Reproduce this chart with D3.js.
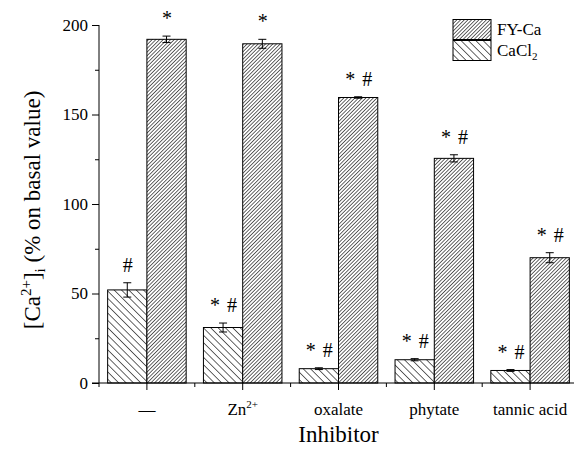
<!DOCTYPE html>
<html>
<head>
<meta charset="utf-8">
<script src="https://cdn.jsdelivr.net/npm/d3@7"></script>
<style>
  body { margin: 0; background: #fff; }
  svg text { font-family: "Liberation Serif", "Times New Roman", serif; fill: #000; }
</style>
</head>
<body>
<svg id="chart" width="574" height="455"></svg>
<script>
// data
const categories = ["\u2014", "Zn", "oxalate", "phytate", "tannic acid"];
const categorySup = ["", "2+", "", "", ""];
const seriesNames = ["CaCl2", "FY-Ca"];

const cacl2Values = [52, 31, 8, 13, 7];
const cacl2Errors = [4, 2.5, 0.5, 0.6, 0.5];
const cacl2Marks = ["#", "* #", "* #", "* #", "* #"];

const fycaValues = [192, 189.5, 159.5, 125.5, 70];
const fycaErrors = [1.8, 2.5, 0.4, 2, 2.8];
const fycaMarks = ["*", "*", "* #", "* #", "* #"];

const yTicks = [0, 50, 100, 150, 200];
const yMinorTicks = [25, 75, 125, 175];

const FONT = '"Liberation Serif", "Times New Roman", serif';
const svg = d3.select("#chart");
const margin = { left: 99, right: -4, top: 25, bottom: 72 };
const width = 574, height = 455;

// hatch patterns
const defs = svg.append("defs");
function hatch(id, size, angle) {
  const p = defs.append("pattern")
    .attr("id", id)
    .attr("patternUnits", "userSpaceOnUse")
    .attr("width", size)
    .attr("height", size)
    .attr("patternTransform", `rotate(${angle})`);
  p.append("rect").attr("width", size).attr("height", size).attr("fill", "#fff");
  p.append("line")
    .attr("x1", 0).attr("y1", 0).attr("x2", 0).attr("y2", size)
    .attr("stroke", "#000").attr("stroke-width", 1.2);
}
hatch("hatch-fy", 2.6, 45);
hatch("hatch-cacl", 5.2, -45);
const fills = { "CaCl2": "url(#hatch-cacl)", "FY-Ca": "url(#hatch-fy)" };

const x0 = d3.scaleBand()
  .domain(d3.range(categories.length))
  .range([margin.left, width - margin.right])
  .padding(0);

const x1 = d3.scaleBand()
  .domain(seriesNames)
  .range([0, x0.bandwidth()])
  .paddingInner(0)
  .paddingOuter(0.22);

const y = d3.scaleLinear()
  .domain([0, 200])
  .range([height - margin.bottom, margin.top]);

const rows = [];
categories.forEach((c, i) => {
  rows.push({ i, s: "CaCl2", v: cacl2Values[i], e: cacl2Errors[i], m: cacl2Marks[i] });
  rows.push({ i, s: "FY-Ca", v: fycaValues[i], e: fycaErrors[i], m: fycaMarks[i] });
});

const g = svg.append("g");

// bars
g.selectAll("rect.bar")
  .data(rows)
  .join("rect")
  .attr("class", "bar")
  .attr("x", (d) => x0(d.i) + x1(d.s))
  .attr("y", (d) => y(d.v))
  .attr("width", x1.bandwidth())
  .attr("height", (d) => y(0) - y(d.v))
  .attr("fill", (d) => fills[d.s])
  .attr("stroke", "#000")
  .attr("stroke-width", 1);

// error bars
const cap = 4;
const err = g.selectAll("g.err").data(rows).join("g").attr("class", "err")
  .attr("stroke", "#000").attr("stroke-width", 1);
const cx = (d) => x0(d.i) + x1(d.s) + x1.bandwidth() / 2;
err.append("line")
  .attr("x1", cx).attr("x2", cx)
  .attr("y1", (d) => y(d.v - d.e)).attr("y2", (d) => y(d.v + d.e));
err.append("line")
  .attr("x1", (d) => cx(d) - cap).attr("x2", (d) => cx(d) + cap)
  .attr("y1", (d) => y(d.v + d.e)).attr("y2", (d) => y(d.v + d.e));
err.append("line")
  .attr("x1", (d) => cx(d) - cap).attr("x2", (d) => cx(d) + cap)
  .attr("y1", (d) => y(d.v - d.e)).attr("y2", (d) => y(d.v - d.e));

// significance marks
g.selectAll("text.mark")
  .data(rows)
  .join("text")
  .attr("class", "mark")
  .attr("x", (d) => cx(d) + 1)
  .attr("y", (d) => y(d.v + d.e) - 11)
  .attr("text-anchor", "middle")
  .attr("font-family", FONT)
  .attr("font-size", 20)
  .attr("letter-spacing", 1)
  .text((d) => d.m);

// y axis
const yAxis = svg.append("g").attr("transform", `translate(${margin.left},0)`);
yAxis.call(d3.axisLeft(y).tickValues(yTicks).tickSize(7).tickPadding(4));
yAxis.append("g").call(d3.axisLeft(y).tickValues(yMinorTicks).tickSize(4).tickFormat(""))
  .select(".domain").remove();
yAxis.select(".domain").attr("d", `M0,${y(200)}V${y(0)}`);
yAxis.attr("font-family", FONT);
yAxis.selectAll("text")
  .attr("font-family", FONT)
  .attr("font-size", 17)
  .attr("fill", "#000");
yAxis.selectAll("line, path").attr("stroke", "#000");

// x axis
const xAxis = svg.append("g").attr("transform", `translate(0,${y(0)})`);
xAxis.append("line")
  .attr("x1", margin.left - 7).attr("x2", width)
  .attr("stroke", "#000");
xAxis.selectAll("line.major")
  .data(categories)
  .join("line")
  .attr("class", "major")
  .attr("x1", (d, i) => x0(i) + x0.bandwidth() / 2)
  .attr("x2", (d, i) => x0(i) + x0.bandwidth() / 2)
  .attr("y1", 0).attr("y2", 7)
  .attr("stroke", "#000");
xAxis.selectAll("line.minor")
  .data(categories)
  .join("line")
  .attr("class", "minor")
  .attr("x1", (d, i) => x0(i))
  .attr("x2", (d, i) => x0(i))
  .attr("y1", 0).attr("y2", 4)
  .attr("stroke", "#000");
const xl = xAxis.selectAll("text.cat")
  .data(categories)
  .join("text")
  .attr("class", "cat")
  .attr("x", (d, i) => x0(i) + x0.bandwidth() / 2)
  .attr("y", 32)
  .attr("text-anchor", "middle")
  .attr("font-family", FONT)
  .attr("font-size", 17);
xl.append("tspan").text((d) => d);
xl.append("tspan")
  .attr("dy", -7)
  .attr("font-size", 11)
  .text((d, i) => categorySup[i]);

// axis titles
svg.append("text")
  .attr("x", x0(2) + x0.bandwidth() / 2)
  .attr("y", 442)
  .attr("text-anchor", "middle")
  .attr("font-family", FONT)
  .attr("font-size", 23)
  .text("Inhibitor");

const yt = svg.append("text")
  .attr("transform", "translate(40,210) rotate(-90)")
  .attr("text-anchor", "middle")
  .attr("font-family", FONT)
  .attr("font-size", 23);
yt.append("tspan").text("[Ca");
yt.append("tspan").attr("dy", -9).attr("font-size", 15).text("2+");
yt.append("tspan").attr("dy", 9).text("]");
yt.append("tspan").attr("dy", 5).attr("font-size", 15).text("i");
yt.append("tspan").attr("dy", -5).text(" (% on basal value)");

// legend
const legendOrder = ["FY-Ca", "CaCl2"];
const legend = svg.append("g").attr("transform", "translate(453,19.5)");
const li = legend.selectAll("g").data(legendOrder).join("g")
  .attr("transform", (d, i) => `translate(0,${i * 21})`);
li.append("rect")
  .attr("width", 38).attr("height", 20)
  .attr("fill", (d) => fills[d])
  .attr("stroke", "#000");
const lt = li.append("text")
  .attr("x", 44).attr("y", 15.5)
  .attr("font-family", FONT)
  .attr("font-size", 17);
lt.append("tspan").text((d) => d === "CaCl2" ? "CaCl" : d);
lt.append("tspan").attr("dy", 4).attr("font-size", 11)
  .text((d) => d === "CaCl2" ? "2" : "");
</script>
</body>
</html>
